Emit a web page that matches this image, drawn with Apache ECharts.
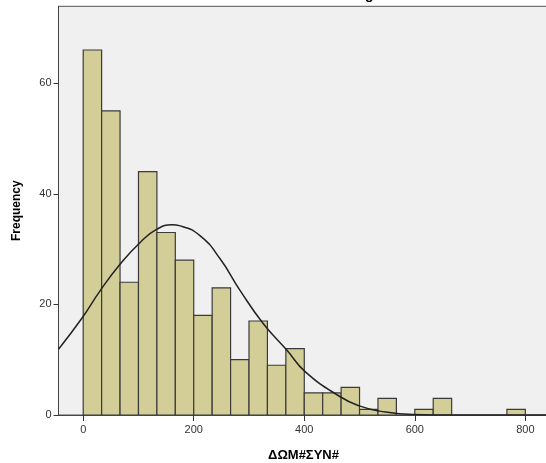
<!DOCTYPE html>
<html>
<head>
<meta charset="utf-8">
<script src="https://cdn.jsdelivr.net/npm/echarts@6/dist/echarts.min.js"></script>
<style>html,body{margin:0;padding:0;background:#fff}#c{width:546px;height:463px}</style>
</head>
<body>
<div id="c"></div>
<script>
// Histogram bins (width 100/3), counts per bin starting at 0
const binWidth = 100 / 3;
const counts = [66, 55, 24, 44, 33, 28, 18, 23, 10, 17, 9, 12, 4, 4, 5, 1, 3, 0, 1, 3, 0, 0, 0, 1];
// Normal curve
const curveX = [-44.7, -2.4, 30.8, 67, 103, 133.4, 160.5, 175.6, 211.8, 248, 284, 326, 368.7, 402, 465, 501, 537, 597, 680, 860];
const curveY = [11.9, 17.5, 22.5, 27.3, 31.2, 33.6, 34.4, 34.2, 32.4, 28.2, 22.5, 16.5, 11.7, 7.8, 3.3, 1.6, 0.7, 0.1, 0, 0];
const xTicks = [0, 200, 400, 600, 800];
const yTicks = [0, 20, 40, 60];
const xTitle = 'ΔΩΜ#ΣΥΝ#';
const yTitle = 'Frequency';
const chartTitle = 'Histogram';

const barData = [];
counts.forEach((c, i) => { if (c > 0) barData.push([i * binWidth, (i + 1) * binWidth, c]); });
const lineData = curveX.map((x, i) => [x, curveY[i]]);

const chart = echarts.init(document.getElementById('c'), null, {renderer: 'canvas'});
const font = 'Arial, "Liberation Sans", sans-serif';
chart.setOption({
  animation: false,
  backgroundColor: '#ffffff',
  graphic: [{
    type: 'text', left: 330, top: -12,
    style: {text: chartTitle, font: 'bold 14px ' + font, fill: '#000'}
  }],
  grid: {
    left: 58.5, top: 6.3, width: 500, height: 408.7,
    show: true, backgroundColor: '#f0f0f0', borderColor: '#555', borderWidth: 1,
    containLabel: false, outerBoundsMode: 'none'
  },
  xAxis: {
    type: 'value', min: -44.7, max: 860, interval: 200,
    name: xTitle, nameLocation: 'middle', nameGap: 34,
    nameTextStyle: {fontFamily: font, fontWeight: 'bold', fontSize: 13, color: '#000', padding: [0, 10, 0, 0]},
    axisLine: {show: true, onZero: false, lineStyle: {color: '#444', width: 1}},
    axisTick: {show: true, length: 6, lineStyle: {color: '#333', width: 1}, customValues: xTicks},
    axisLabel: {fontFamily: font, fontSize: 11, color: '#333', margin: 9, customValues: xTicks},
    splitLine: {show: false}
  },
  yAxis: {
    type: 'value', min: 0, max: 73.9, interval: 20,
    name: yTitle, nameLocation: 'middle', nameGap: 36, nameRotate: 90,
    nameTextStyle: {fontFamily: font, fontWeight: 'bold', fontSize: 12, color: '#000'},
    axisLine: {show: true, onZero: false, lineStyle: {color: '#444', width: 1}},
    axisTick: {show: true, length: 5, lineStyle: {color: '#333', width: 1}, customValues: yTicks},
    axisLabel: {fontFamily: font, fontSize: 11, color: '#333', margin: 7, customValues: yTicks},
    splitLine: {show: false}
  },
  series: [{
    type: 'custom',
    data: barData,
    encode: {x: [0, 1], y: 2},
    clip: true,
    renderItem: function (params, api) {
      const p0 = api.coord([api.value(0), api.value(2)]);
      const p1 = api.coord([api.value(1), 0]);
      return {
        type: 'rect',
        shape: {x: p0[0], y: p0[1], width: p1[0] - p0[0], height: p1[1] - p0[1]},
        style: {fill: '#d3ce97', stroke: '#3a3a3a', lineWidth: 1.2}
      };
    }
  }, {
    type: 'line',
    data: lineData,
    smooth: true,
    symbol: 'none',
    clip: true,
    lineStyle: {color: '#222', width: 1.5},
    z: 5
  }]
});
</script>
</body>
</html>
